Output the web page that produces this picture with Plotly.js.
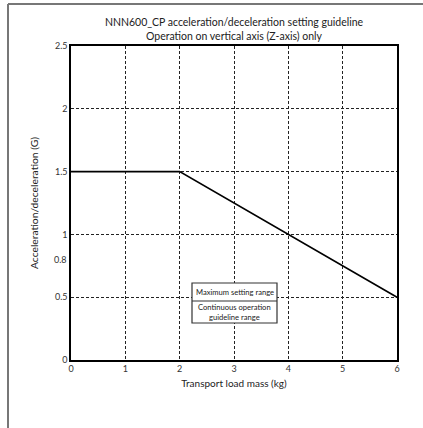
<!DOCTYPE html>
<html><head><meta charset="utf-8">
<script src="https://cdn.plot.ly/plotly-3.0.1.min.js"></script>
<style>html,body{margin:0;padding:0;background:#fff;}#chart{width:423px;height:428px;}</style>
</head><body><div id="chart"></div>
<script>
const massKg = [0, 2, 6];
const accelG = [1.5, 1.5, 0.5];
const xTicks = [0, 1, 2, 3, 4, 5, 6];
const yGridTicks = [0, 0.5, 1, 1.5, 2, 2.5];
const yExtraTick = 0.8;
const titleText = 'NNN600_CP acceleration/deceleration setting guideline<br>Operation on vertical axis (Z-axis) only';
const xTitle = 'Transport load mass (kg)';
const yTitle = 'Acceleration/deceleration (G)';
const legendTop = 'Maximum setting range';
const legendBottom = 'Continuous operation<br>guideline range';

const FONT = 'Lato, "Open Sans", sans-serif';
const NARROW = 'Lato, sans-serif';

const W = 423, H = 428, L = 71, R = 26, T = 46, B = 68;
const pw = W - L - R, ph = H - T - B;
const px = v => (v - L) / pw;
const py = v => (H - B - v) / ph;

const trace = {
  x: massKg, y: accelG, type: 'scatter', mode: 'lines',
  line: {color: '#000', width: 1.6}, hoverinfo: 'skip', showlegend: false
};

const boxL = px(192), boxR = px(277), boxT = py(283), boxM = py(301), boxB = py(323);

const layout = {
  width: W, height: H,
  margin: {l: L, r: R, t: T, b: B, pad: 0},
  paper_bgcolor: '#fff', plot_bgcolor: '#fff',
  font: {family: FONT, size: 9, color: '#222'},
  title: {
    text: titleText, font: {family: FONT, size: 10.5, color: '#222'},
    x: 0.5, xref: 'paper', xanchor: 'center',
    y: 1 - 26 / H, yref: 'container', yanchor: 'top'
  },
  xaxis: {
    range: [0, 6], tickvals: xTicks, ticktext: xTicks.map(String),
    showgrid: true, gridcolor: '#222', gridwidth: 1, griddash: '3px,2px',
    zeroline: false, showline: true, linecolor: '#000', linewidth: 1.6, mirror: true,
    ticks: '', ticklen: 0, tickfont: {size: 9, family: FONT, color: '#333'},
    title: {text: xTitle, font: {size: 10, family: FONT, color: '#222'}, standoff: 6},
    fixedrange: true
  },
  yaxis: {
    range: [0, 2.5], tickvals: yGridTicks, ticktext: yGridTicks.map(String),
    showgrid: true, gridcolor: '#222', gridwidth: 1, griddash: '3px,2px',
    zeroline: false, showline: true, linecolor: '#000', linewidth: 1.6, mirror: true,
    ticks: '', ticklen: 0, tickfont: {size: 9, family: FONT, color: '#333'},
    title: {text: yTitle, font: {size: 10.3, family: FONT, color: '#222'}, standoff: 14},
    fixedrange: true
  },
  shapes: [
    {type: 'line', xref: 'paper', yref: 'paper', x0: px(8), x1: px(W + 2), y0: py(4), y1: py(4), line: {color: '#777', width: 2}},
    {type: 'line', xref: 'paper', yref: 'paper', x0: px(8), x1: px(8), y0: py(4), y1: py(H + 2), line: {color: '#777', width: 2}},
    {type: 'rect', xref: 'paper', yref: 'paper', x0: boxL, x1: boxR, y0: boxB, y1: boxT, fillcolor: '#fff', line: {color: '#333', width: 1.2}},
    {type: 'line', xref: 'paper', yref: 'paper', x0: boxL, x1: boxR, y0: boxM, y1: boxM, line: {color: '#333', width: 1.2}}
  ],
  annotations: [
    {text: String(yExtraTick), xref: 'paper', yref: 'y', x: 0, y: yExtraTick, xanchor: 'right', yanchor: 'middle', xshift: -2, showarrow: false, font: {size: 9, family: FONT, color: '#333'}},
    {text: legendTop, xref: 'paper', yref: 'paper', x: (boxL + boxR) / 2, y: (boxT + boxM) / 2, xanchor: 'center', yanchor: 'middle', showarrow: false, font: {size: 7.6, family: NARROW, color: '#222'}},
    {text: legendBottom, xref: 'paper', yref: 'paper', x: (boxL + boxR) / 2, y: (boxM + boxB) / 2, xanchor: 'center', yanchor: 'middle', showarrow: false, font: {size: 7.6, family: NARROW, color: '#222'}}
  ]
};

Plotly.newPlot('chart', [trace], layout, {displayModeBar: false, staticPlot: true});
</script>
</body></html>
